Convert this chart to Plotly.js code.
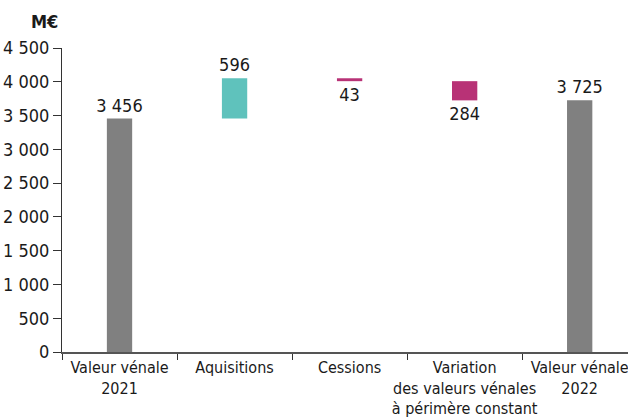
<!DOCTYPE html>
<html>
<head>
<meta charset="utf-8">
<script src="https://cdn.plot.ly/plotly-3.0.1.min.js"></script>
<style>html,body{margin:0;padding:0;background:#fff;}#chart{width:628px;height:419px;}</style>
</head>
<body>
<div id="chart"></div>
<script>
const categories = ["Valeur vénale<br>2021", "Aquisitions", "Cessions", "Variation<br>des valeurs vénales<br>à périmère constant", "Valeur vénale<br>2022"];
const measures = ["absolute", "relative", "relative", "relative", "total"];
const values = [3456, 596, -43, -284, 3725];
const valueLabels = ["3 456", "596", "43", "284", "3 725"];
const yTicks = [0, 500, 1000, 1500, 2000, 2500, 3000, 3500, 4000, 4500];

const font = "'Liberation Sans Narrow', 'DejaVu Sans Condensed', sans-serif";

const trace = {
  type: "waterfall",
  x: categories,
  y: values,
  measure: measures,
  text: valueLabels,
  textposition: "outside",
  constraintext: "none",
  textfont: {family: font, size: 18, color: "#1a1a1a"},
  cliponaxis: false,
  width: 0.22,
  connector: {visible: false},
  increasing: {marker: {color: "#5fc2bc"}},
  decreasing: {marker: {color: "#b83276"}},
  totals: {marker: {color: "#808080"}},
  hoverinfo: "skip"
};
const layout = {
  width: 628, height: 419,
  margin: {l: 62, r: 0, t: 48, b: 67},
  paper_bgcolor: "#fff", plot_bgcolor: "#fff",
  showlegend: false,
  separators: ", ",
  font: {family: font, size: 18, color: "#1a1a1a"},
  xaxis: {
    type: "category",
    range: [-0.5, 4.42],
    tickangle: 0,
    showline: true, linecolor: "#555", linewidth: 1.5,
    ticks: "outside", tickson: "boundaries", ticklen: 6, tickcolor: "#333",
    showgrid: false, zeroline: false,
    tickfont: {family: font, size: 16, color: "#1a1a1a", lineposition: "none"}
  },
  yaxis: {
    range: [0, 4500],
    tickvals: yTicks,
    tickformat: ",d",
    showline: true, linecolor: "#333", linewidth: 1,
    ticks: "outside", ticklen: 8, tickcolor: "#333",
    showgrid: false, zeroline: false,
    tickfont: {family: font, size: 18, color: "#1a1a1a"}
  },
  annotations: [{
    text: "<b>M€</b>", xref: "paper", yref: "paper", x: 0, y: 1,
    xanchor: "right", yanchor: "bottom", xshift: -2, yshift: 14,
    showarrow: false, font: {family: font, size: 18, color: "#1a1a1a"}
  }]
};
Plotly.newPlot("chart", [trace], layout, {displayModeBar: false, staticPlot: true});
</script>
</body>
</html>
